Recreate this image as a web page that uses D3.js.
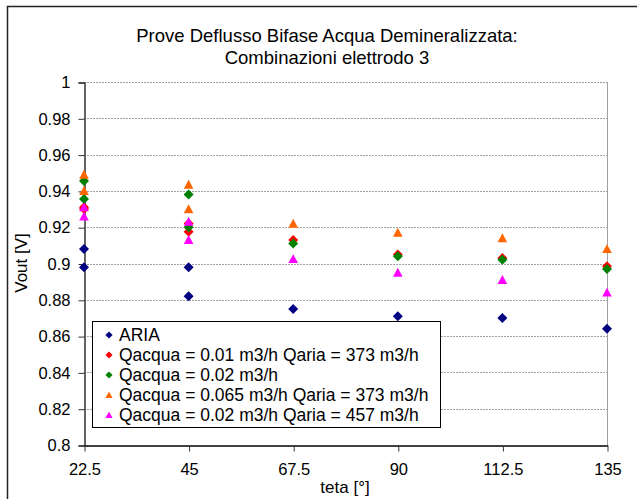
<!DOCTYPE html>
<html>
<head>
<meta charset="utf-8">
<script src="https://cdn.jsdelivr.net/npm/d3@7"></script>
<style>
body { margin:0; background:#fff; }
svg { display:block; font-family: Arial, "Liberation Sans", sans-serif; }
</style>
</head>
<body>
<svg id="chart" width="637" height="499"></svg>
<script>
// dati (teta in gradi, Vout in V)
var theta = [22.5, 22.5, 45, 45, 67.5, 90, 112.5, 135];
var aria      = [0.908, 0.898, 0.898, 0.882, 0.875, 0.871, 0.870, 0.864];
var q001_373  = [0.931, 0.930, 0.922, 0.9175, 0.913, 0.905, 0.903, 0.8985];
var q002      = [0.9455, 0.9355, 0.938, 0.920, 0.911, 0.904, 0.902, 0.897];
var q0065_373 = [0.949, 0.940, 0.9435, 0.930, 0.922, 0.917, 0.914, 0.908];
var q002_457  = [0.931, 0.926, 0.923, 0.913, 0.9025, 0.895, 0.891, 0.884];

var xTicks = [22.5, 45, 67.5, 90, 112.5, 135];
var yTicks = [0.8, 0.82, 0.84, 0.86, 0.88, 0.9, 0.92, 0.94, 0.96, 0.98, 1];

var seriesNames = ["ARIA", "Qacqua = 0.01 m3/h Qaria = 373 m3/h", "Qacqua = 0.02 m3/h",
	"Qacqua = 0.065 m3/h Qaria = 373 m3/h", "Qacqua = 0.02 m3/h Qaria = 457 m3/h"];
var seriesValues = [aria, q001_373, q002, q0065_373, q002_457];
var seriesColors = ["#000080", "#ff0000", "#008000", "#ff6600", "#ff00ff"];
var seriesShapes = ["diamond", "diamond", "diamond", "triangle", "triangle"];

var svg = d3.select("#chart");

// cornice esterna
svg.append("rect")
	.attr("x", 7.5).attr("y", 6.5)
	.attr("width", 640).attr("height", 500)
	.attr("fill", "#fff")
	.attr("stroke", "#222").attr("stroke-width", 1.5);

var x = d3.scaleLinear().domain([22.5, 135]).range([84, 607]);
var y = d3.scaleLinear().domain([0.8, 1]).range([445, 82]);

// griglia
svg.append("g")
	.selectAll("line")
	.data(yTicks.filter(function(d){ return d > 0.8; }))
	.enter()
	.append("line")
	.attr("x1", 84).attr("x2", 607)
	.attr("y1", function(d){ return Math.round(y(d)) + 0.5; })
	.attr("y2", function(d){ return Math.round(y(d)) + 0.5; })
	.attr("stroke", "#a0a0a0")
	.attr("stroke-dasharray", "2,1");

// bordo destro
svg.append("line")
	.attr("x1", 607.5).attr("x2", 607.5)
	.attr("y1", 82).attr("y2", 445)
	.attr("stroke", "#a0a0a0");

// asse y
var yAxis = svg.append("g")
	.attr("transform", "translate(84.5,0.5)")
	.call(d3.axisLeft(y).tickValues(yTicks).tickSize(6).tickPadding(8)
		.tickFormat(function(d){ return String(+d.toFixed(2)); }));
yAxis.select(".domain").attr("stroke", "#333").attr("stroke-width", 1.5);
yAxis.selectAll(".tick line").attr("stroke", "#333");
yAxis.selectAll("text").attr("font-size", "16.5px").attr("fill", "#000")
	.attr("font-family", "Arial, 'Liberation Sans', sans-serif");

// asse x
var xAxis = svg.append("g")
	.attr("transform", "translate(0.5,445.5)")
	.call(d3.axisBottom(x).tickValues(xTicks).tickSize(6).tickSizeOuter(0).tickPadding(12)
		.tickFormat(function(d){ return String(d); }));
xAxis.select(".domain").attr("stroke", "#000").attr("stroke-width", 1.5);
xAxis.selectAll(".tick line").attr("stroke", "#333");
xAxis.selectAll("text").attr("font-size", "16.5px").attr("fill", "#000")
	.attr("font-family", "Arial, 'Liberation Sans', sans-serif");

// marker
function markerPath(shape, r) {
	if (shape == "diamond") {
		return "M0," + (-r) + "L" + r + ",0L0," + r + "L" + (-r) + ",0Z";
	}
	return "M0," + (-r) + "L" + r + "," + (r * 0.85) + "L" + (-r) + "," + (r * 0.85) + "Z";
}

seriesValues.forEach(function(vals, s){
	svg.append("g")
		.selectAll("path")
		.data(vals)
		.enter()
		.append("path")
		.attr("d", markerPath(seriesShapes[s], seriesShapes[s] == "diamond" ? 5 : 4.8))
		.attr("fill", seriesColors[s])
		.attr("transform", function(d, i){
			return "translate(" + x(theta[i]) + "," + y(d) + ")";
		});
});

// titolo
var title = svg.append("text")
	.attr("text-anchor", "middle")
	.attr("font-size", "18.5px");
title.append("tspan").attr("x", 327).attr("y", 42).text("Prove Deflusso Bifase Acqua Demineralizzata:");
title.append("tspan").attr("x", 327).attr("y", 64).text("Combinazioni elettrodo 3");

// titoli assi
svg.append("text")
	.attr("x", 345).attr("y", 493)
	.attr("text-anchor", "middle")
	.attr("font-size", "17px")
	.text("teta [°]");

svg.append("text")
	.attr("transform", "translate(27,263) rotate(-90)")
	.attr("text-anchor", "middle")
	.attr("font-size", "17px")
	.text("Vout [V]");

// legenda
var legend = svg.append("g");
legend.append("rect")
	.attr("x", 92.5).attr("y", 321.5)
	.attr("width", 348).attr("height", 106)
	.attr("fill", "#fff").attr("stroke", "#000");

var item = legend.selectAll("g.item")
	.data(seriesNames)
	.enter()
	.append("g")
	.attr("class", "item")
	.attr("transform", function(d, i){ return "translate(109," + (335 + i * 20) + ")"; });

item.append("path")
	.attr("d", function(d, i){ return markerPath(seriesShapes[i], 3.6); })
	.attr("fill", function(d, i){ return seriesColors[i]; });

item.append("text")
	.attr("x", 10).attr("dy", "0.36em")
	.attr("font-size", "17.5px")
	.text(function(d){ return d; });
</script>
</body>
</html>
